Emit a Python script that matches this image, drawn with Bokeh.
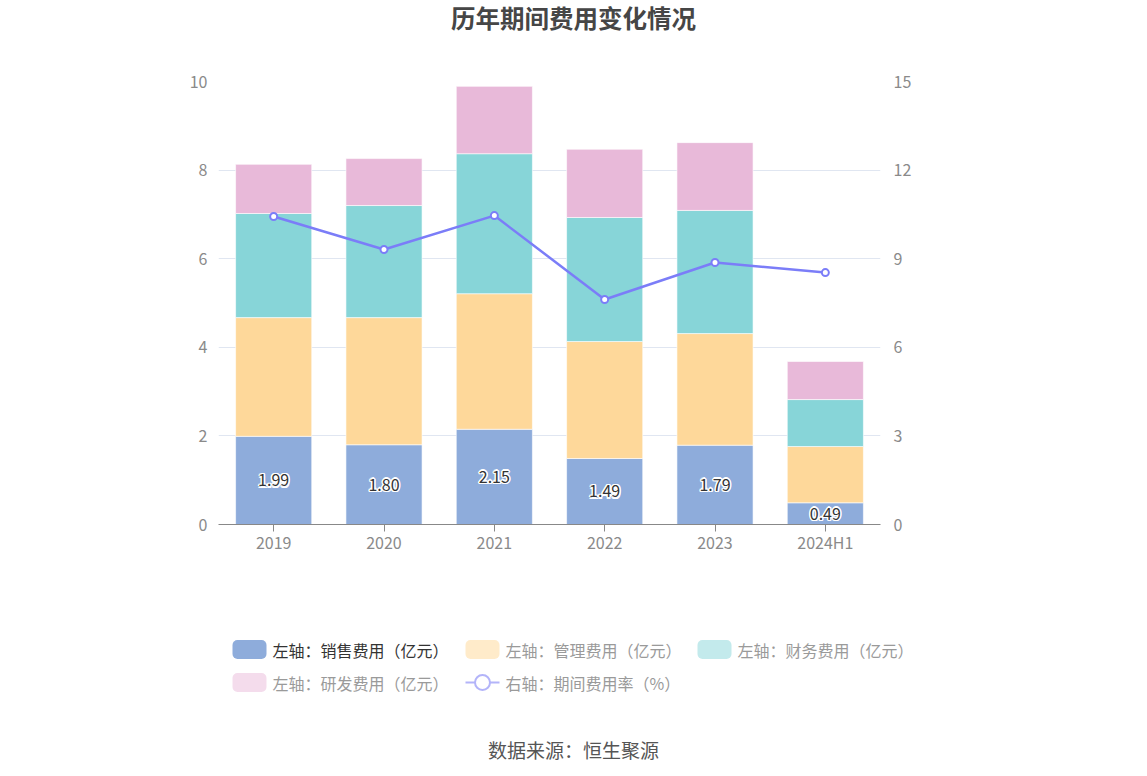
from bokeh.plotting import figure
from bokeh.models import Range1d, LinearAxis, FixedTicker, FactorRange, ColumnDataSource
from bokeh.layouts import column
from bokeh.core.properties import value
from bokeh.embed import file_html
from bokeh.resources import INLINE

# ---------------- data ----------------
years = ["2019", "2020", "2021", "2022", "2023", "2024H1"]
sales = [1.99, 1.80, 2.15, 1.49, 1.79, 0.49]
admin = [2.68, 2.87, 3.06, 2.64, 2.52, 1.27]
finance = [2.35, 2.53, 3.16, 2.80, 2.78, 1.06]
rnd = [1.11, 1.06, 1.52, 1.54, 1.53, 0.86]
rate = [10.43, 9.31, 10.46, 7.62, 8.87, 8.53]

left_ticks = [0, 2, 4, 6, 8, 10]
right_ticks = [0, 3, 6, 9, 12, 15]

series_names = ["销售费用", "管理费用", "财务费用", "研发费用"]
colors = ["#8eacdb", "#fed89a", "#87d5d8", "#e8b9d9"]
faded = ["#8eacdb", "#ffebca", "#c3eaec", "#f4dcec"]
line_color = "#7b7df8"
FONT = "Noto Sans CJK SC"
W = 1147

# ---------------- header (title) ----------------
hdr = figure(width=W, height=50, x_range=Range1d(0, W), y_range=Range1d(50, 0),
             output_backend="svg", toolbar_location=None, title=None,
             x_axis_location=None, y_axis_location=None, min_border=0,
             frame_align=False)
hdr.outline_line_color = None
hdr.grid.visible = False
hdr.text(x=[573], y=[17], text=["历年期间费用变化情况"], text_align="center",
         text_baseline="middle", text_font=value(FONT), text_font_style="bold",
         text_font_size="24.5px", text_color="#464646")

# ---------------- main chart ----------------
src = ColumnDataSource(dict(year=years, sales=sales, admin=admin, finance=finance,
                            rnd=rnd, rate=rate,
                            lab=["%.2f" % v for v in sales],
                            laby=[v / 2 for v in sales]))

p = figure(width=W, height=538, x_range=FactorRange(*years), y_range=Range1d(0, 10),
           output_backend="svg", toolbar_location=None, title=None,
           min_border_left=218, min_border_right=267, min_border_top=31,
           min_border_bottom=64, frame_align=False)
p.outline_line_color = None
p.extra_y_ranges = {"y2": Range1d(0, 15)}

p.vbar_stack(["sales", "admin", "finance", "rnd"], x="year", width=0.69, source=src,
             color=colors, line_color="white", line_width=0.6)

# value labels: white halo (several offset copies), then dark text on top
for dx, dy in [(-1.5, 0), (1.5, 0), (0, -1.5), (0, 1.5),
               (-1.1, -1.1), (1.1, -1.1), (-1.1, 1.1), (1.1, 1.1)]:
    p.text(x="year", y="laby", text="lab", source=src, text_align="center",
           text_baseline="middle", text_font=value(FONT), text_font_size="16px",
           text_color="white", x_offset=dx, y_offset=dy)
p.text(x="year", y="laby", text="lab", source=src, text_align="center",
       text_baseline="middle", text_font=value(FONT), text_font_size="16px",
       text_color="#333333")

p.line(x="year", y="rate", source=src, y_range_name="y2", line_color=line_color,
       line_width=2.5)
p.scatter(x="year", y="rate", source=src, y_range_name="y2", size=7,
          fill_color="white", line_color=line_color, line_width=2)

# axes
p.xaxis.axis_line_color = "#888888"
p.xaxis.major_tick_line_color = "#888888"
p.xaxis.major_tick_out = 7
p.xaxis.major_tick_in = 0
p.xaxis.minor_tick_line_color = None
p.xaxis.major_label_text_font = FONT
p.xaxis.major_label_text_font_size = "16px"
p.xaxis.major_label_text_color = "#8a8a8a"
p.xaxis.major_label_standoff = -2

p.yaxis.ticker = FixedTicker(ticks=left_ticks)
p.yaxis.axis_line_color = None
p.yaxis.major_tick_line_color = None
p.yaxis.minor_tick_line_color = None
p.yaxis.major_label_text_font = FONT
p.yaxis.major_label_text_font_size = "16px"
p.yaxis.major_label_text_color = "#8a8a8a"
p.yaxis.major_label_standoff = 5

ax2 = LinearAxis(y_range_name="y2", ticker=FixedTicker(ticks=right_ticks))
ax2.axis_line_color = None
ax2.major_tick_line_color = None
ax2.minor_tick_line_color = None
ax2.major_label_text_font = FONT
ax2.major_label_text_font_size = "16px"
ax2.major_label_text_color = "#8a8a8a"
ax2.major_label_standoff = 7
p.add_layout(ax2, "right")

p.xgrid.visible = False
p.ygrid.ticker = FixedTicker(ticks=left_ticks)
p.ygrid.grid_line_color = "#e0e6f1"
p.ygrid.grid_line_width = 1

# ---------------- footer (legend + source) ----------------
ft = figure(width=W, height=180, x_range=Range1d(0, W), y_range=Range1d(180, 0),
            output_backend="svg", toolbar_location=None, title=None,
            x_axis_location=None, y_axis_location=None, min_border=0,
            frame_align=False)
ft.outline_line_color = None
ft.grid.visible = False

legend_x = [232, 465, 697, 232]
legend_y = [61, 61, 61, 94]
lab_colors = ["#333333", "#9a9a9a", "#9a9a9a", "#9a9a9a"]
for i, name in enumerate(series_names):
    x0 = legend_x[i]
    yc = legend_y[i]
    ft.quad(left=[x0], right=[x0 + 34], top=[yc - 9.5], bottom=[yc + 9.5],
            fill_color=faded[i], line_color=None, border_radius=5)
    ft.text(x=[x0 + 40], y=[yc], text=["左轴：" + name + "（亿元）"],
            text_baseline="middle", text_font=value(FONT), text_font_size="16px",
            text_color=lab_colors[i])

# line legend item
lx0 = 465
ly = 94
ft.line(x=[lx0, lx0 + 34], y=[ly, ly], line_color="#b3b4f9", line_width=2)
ft.scatter(x=[lx0 + 17], y=[ly], size=15, fill_color="white",
           line_color="#b3b4f9", line_width=2)
ft.text(x=[lx0 + 40], y=[ly], text=["右轴：期间费用率（%）"], text_baseline="middle",
        text_font=value(FONT), text_font_size="16px", text_color="#9a9a9a")

ft.text(x=[573], y=[161], text=["数据来源：恒生聚源"], text_align="center",
        text_baseline="middle", text_font=value(FONT), text_font_size="19px",
        text_color="#555555")

layout = column(hdr, p, ft, spacing=0)
open("out.html", "w").write(file_html(layout, INLINE))
